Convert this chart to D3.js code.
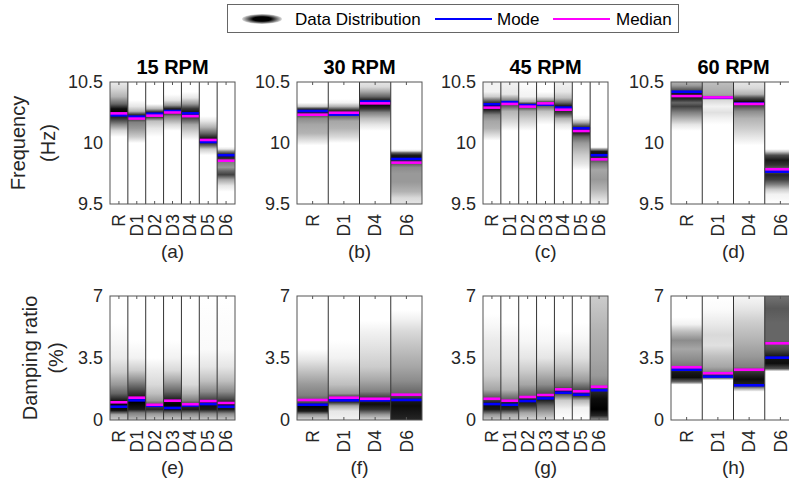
<!DOCTYPE html>
<html>
<head>
<meta charset="utf-8">
<script src="https://cdnjs.cloudflare.com/ajax/libs/d3/7.8.5/d3.min.js"></script>
<style>
body { margin: 0; background: #fff; }
svg { display: block; font-family: "Liberation Sans", Arial, sans-serif; }
</style>
</head>
<body>
<div class="chart"></div>
<script>
// chart size
var svgWidth = 789;
var svgHeight = 486;

// titles and panel letters
var speeds = ["15 RPM", "30 RPM", "45 RPM", "60 RPM"];
var letters = ["(a)", "(b)", "(c)", "(d)", "(e)", "(f)", "(g)", "(h)"];

// categories
var catsFull = ["R", "D1", "D2", "D3", "D4", "D5", "D6"];
var catsShort = ["R", "D1", "D4", "D6"];

// y ticks
var freqTicks = [9.5, 10, 10.5];
var dampTicks = [0, 3.5, 7];

// frequency (Hz): mode and median per category
var freqMode15 = [10.227, 10.216, 10.24, 10.262, 10.243, 10.008, 9.90];
var freqMed15 = [10.243, 10.20, 10.224, 10.25, 10.22, 10.025, 9.855];
var freqMode30 = [10.262, 10.233, 10.34, 9.869];
var freqMed30 = [10.232, 10.248, 10.325, 9.839];
var freqMode45 = [10.317, 10.335, 10.31, 10.315, 10.29, 10.12, 9.90];
var freqMed45 = [10.29, 10.32, 10.298, 10.325, 10.273, 10.098, 9.866];
var freqMode60 = [10.42, 10.372, 10.323, 9.765];
var freqMed60 = [10.385, 10.374, 10.32, 9.785];

// damping ratio (%): mode and median per category
var dampMode15 = [0.75, 1.11, 0.80, 0.68, 0.82, 0.90, 0.75];
var dampMed15 = [1.0, 1.26, 0.86, 1.09, 0.89, 1.07, 0.96];
var dampMode30 = [0.86, 1.11, 1.11, 1.13];
var dampMed30 = [1.13, 1.26, 1.2, 1.43];
var dampMode45 = [0.9, 0.86, 1.07, 1.22, 1.54, 1.43, 1.68];
var dampMed45 = [1.2, 1.09, 1.3, 1.41, 1.73, 1.62, 1.88];
var dampMode60 = [2.84, 2.45, 1.96, 3.52];
var dampMed60 = [2.98, 2.64, 2.84, 4.33];

// data distribution: [value, darkness 0..1] per category
var freqDist15 = [
  [[9.5,0],[10.05,0],[10.1,0.15],[10.15,0.45],[10.2,0.8],[10.24,1],[10.28,0.95],[10.32,0.6],[10.38,0.3],[10.45,0.15],[10.5,0.08]],
  [[9.5,0],[10.0,0],[10.05,0.2],[10.12,0.4],[10.17,0.5],[10.21,0.9],[10.23,0.85],[10.26,0.3],[10.3,0.1],[10.35,0],[10.5,0]],
  [[9.5,0],[10.05,0],[10.12,0.1],[10.18,0.25],[10.22,0.9],[10.25,0.9],[10.28,0.3],[10.32,0],[10.5,0]],
  [[9.5,0],[10.1,0],[10.15,0.15],[10.22,0.5],[10.25,0.9],[10.28,0.9],[10.31,0.4],[10.35,0.1],[10.4,0],[10.5,0]],
  [[9.5,0],[10.02,0],[10.08,0.15],[10.15,0.35],[10.2,0.7],[10.24,0.95],[10.28,0.8],[10.32,0.4],[10.37,0.1],[10.42,0],[10.5,0]],
  [[9.5,0],[9.9,0],[9.95,0.2],[9.98,0.6],[10.01,0.9],[10.04,0.9],[10.08,0.6],[10.13,0.3],[10.18,0.1],[10.22,0],[10.5,0]],
  [[9.5,0],[9.6,0],[9.65,0.1],[9.7,0.35],[9.74,0.75],[9.77,0.6],[9.8,0.4],[9.84,0.5],[9.87,0.8],[9.9,0.95],[9.93,0.5],[9.95,0.1],[9.97,0],[10.5,0]]
];
var freqDist30 = [
  [[9.5,0],[9.98,0],[10.03,0.15],[10.08,0.3],[10.15,0.35],[10.2,0.45],[10.23,0.7],[10.26,0.95],[10.28,0.8],[10.3,0.2],[10.33,0],[10.5,0]],
  [[9.5,0],[10.0,0],[10.05,0.15],[10.12,0.3],[10.18,0.35],[10.22,0.6],[10.25,0.9],[10.27,0.8],[10.3,0.3],[10.33,0.05],[10.36,0],[10.5,0]],
  [[9.5,0],[10.1,0],[10.15,0.1],[10.2,0.25],[10.25,0.5],[10.28,0.8],[10.31,0.95],[10.35,0.9],[10.38,0.6],[10.42,0.35],[10.46,0.15],[10.5,0.1]],
  [[9.5,0.1],[9.55,0.15],[9.6,0.3],[9.68,0.4],[9.75,0.4],[9.8,0.45],[9.84,0.7],[9.87,0.95],[9.9,0.9],[9.92,0.6],[9.935,0.1],[9.95,0],[10.5,0]]
];
var freqDist45 = [
  [[9.5,0],[10.02,0],[10.07,0.15],[10.12,0.3],[10.18,0.35],[10.23,0.5],[10.27,0.85],[10.31,1],[10.34,0.7],[10.38,0.2],[10.42,0.05],[10.5,0.05]],
  [[9.5,0],[10.1,0],[10.15,0.1],[10.2,0.2],[10.26,0.3],[10.3,0.6],[10.33,0.9],[10.35,0.5],[10.4,0.1],[10.5,0.05]],
  [[9.5,0],[10.1,0],[10.15,0.1],[10.2,0.2],[10.26,0.35],[10.29,0.7],[10.32,0.8],[10.34,0.3],[10.38,0.05],[10.5,0]],
  [[9.5,0],[10.15,0],[10.2,0.1],[10.26,0.25],[10.3,0.6],[10.33,0.85],[10.35,0.4],[10.38,0.1],[10.42,0],[10.5,0]],
  [[9.5,0],[10.1,0],[10.15,0.1],[10.2,0.3],[10.24,0.7],[10.27,0.9],[10.3,0.95],[10.33,0.6],[10.37,0.25],[10.42,0.1],[10.5,0.05]],
  [[9.5,0],[9.78,0],[9.83,0.1],[9.9,0.2],[9.95,0.3],[10.0,0.4],[10.05,0.6],[10.08,0.85],[10.11,1],[10.14,0.7],[10.17,0.3],[10.2,0.05],[10.23,0],[10.5,0]],
  [[9.5,0.05],[9.55,0.15],[9.62,0.3],[9.7,0.4],[9.78,0.35],[9.83,0.5],[9.87,0.75],[9.9,0.95],[9.93,0.9],[9.95,0.4],[9.965,0],[10.5,0]]
];
var freqDist60 = [
  [[9.5,0],[10.1,0],[10.15,0.1],[10.2,0.3],[10.25,0.5],[10.3,0.75],[10.33,0.6],[10.36,0.85],[10.4,0.95],[10.43,0.7],[10.47,0.4],[10.5,0.3]],
  [[9.5,0],[10.15,0],[10.2,0.05],[10.25,0.12],[10.3,0.05],[10.35,0.15],[10.37,0.5],[10.4,0.35],[10.45,0.3],[10.5,0.25]],
  [[9.5,0],[9.98,0],[10.05,0.1],[10.12,0.2],[10.2,0.3],[10.26,0.45],[10.3,0.7],[10.34,0.95],[10.37,0.7],[10.4,0.3],[10.45,0.15],[10.5,0.1]],
  [[9.5,0],[9.58,0.05],[9.62,0.2],[9.66,0.5],[9.7,0.75],[9.74,0.85],[9.78,0.6],[9.82,0.8],[9.86,0.9],[9.9,0.7],[9.93,0.2],[9.95,0],[10.5,0]]
];
var dampDist15 = [
  [[0,0.2],[0.3,0.35],[0.55,0.95],[0.8,1],[1.1,0.9],[1.5,0.6],[2.0,0.4],[2.7,0.2],[3.5,0.08],[4.5,0.03],[5.5,0],[7,0]],
  [[0,0.25],[0.4,0.5],[0.6,0.9],[1.0,1],[1.3,0.9],[1.7,0.7],[2.2,0.45],[2.8,0.2],[3.5,0.05],[4.5,0],[7,0]],
  [[0,0.2],[0.35,0.4],[0.6,0.85],[0.85,0.7],[1.1,0.4],[1.5,0.25],[2.0,0.15],[2.8,0.08],[3.5,0],[7,0]],
  [[0,0.2],[0.35,0.45],[0.6,0.95],[0.9,1],[1.2,0.85],[1.6,0.6],[2.2,0.35],[2.8,0.15],[3.5,0.05],[4.5,0],[7,0]],
  [[0,0.2],[0.35,0.45],[0.6,0.9],[0.85,0.8],[1.1,0.5],[1.5,0.3],[2.0,0.15],[3,0.05],[3.8,0],[7,0]],
  [[0,0.2],[0.35,0.45],[0.6,0.9],[0.9,0.95],[1.2,0.7],[1.6,0.45],[2.2,0.25],[3,0.1],[4,0.02],[7,0]],
  [[0,0.2],[0.35,0.45],[0.6,0.9],[0.9,0.95],[1.2,0.7],[1.6,0.45],[2.2,0.25],[3,0.1],[4,0.02],[7,0]]
];
var dampDist30 = [
  [[0,0.15],[0.3,0.4],[0.5,0.9],[0.8,1],[1.0,0.7],[1.4,0.5],[2.0,0.4],[2.7,0.25],[3.4,0.1],[4,0],[7,0]],
  [[0,0.05],[0.5,0.1],[0.8,0.35],[1.0,0.8],[1.2,0.9],[1.5,0.4],[2.0,0.25],[2.7,0.15],[3.5,0.05],[4.5,0],[7,0]],
  [[0,0.15],[0.3,0.4],[0.6,0.8],[0.9,0.95],[1.2,0.8],[1.6,0.5],[2.2,0.35],[3,0.2],[4,0.12],[5,0.05],[5.6,0],[7,0]],
  [[0,0.85],[0.4,0.9],[0.8,0.95],[1.1,0.9],[1.5,0.6],[2.2,0.45],[3,0.35],[4,0.25],[5,0.15],[5.7,0.05],[6.2,0],[7,0]]
];
var dampDist45 = [
  [[0,0.2],[0.3,0.4],[0.6,0.9],[0.9,0.95],[1.2,0.7],[1.7,0.35],[2.5,0.2],[3.5,0.12],[4.5,0.08],[5.3,0.03],[6,0],[7,0]],
  [[0,0.2],[0.3,0.35],[0.6,0.85],[0.9,0.95],[1.2,0.6],[1.7,0.3],[2.5,0.18],[3.5,0.1],[4.5,0.05],[5.5,0],[7,0]],
  [[0,0.15],[0.4,0.35],[0.8,0.8],[1.1,0.95],[1.4,0.6],[2.0,0.35],[2.8,0.2],[3.5,0.1],[4.5,0.03],[5.5,0],[7,0]],
  [[0,0.15],[0.4,0.35],[0.8,0.6],[1.2,0.95],[1.5,0.7],[2.0,0.45],[2.8,0.25],[3.5,0.1],[4.5,0.03],[5.5,0],[7,0]],
  [[0,0],[0.6,0.05],[1.1,0.2],[1.4,0.6],[1.6,0.9],[1.9,0.6],[2.5,0.35],[3.2,0.2],[4,0.08],[5,0],[7,0]],
  [[0,0],[0.7,0.05],[1.1,0.3],[1.4,0.9],[1.7,0.7],[2.2,0.4],[2.8,0.25],[3.5,0.12],[4.5,0.04],[5.5,0],[7,0]],
  [[0,0.4],[0.25,0.85],[0.6,1],[1.2,0.95],[1.6,0.85],[2.0,0.5],[2.5,0.4],[3.5,0.35],[5,0.3],[6,0.25],[7,0.2]]
];
var dampDist60 = [
  [[0,0],[2.0,0],[2.15,0.6],[2.4,0.95],[2.7,0.9],[3.0,0.55],[3.4,0.45],[4.0,0.35],[4.5,0.45],[5.0,0.25],[5.4,0.05],[5.8,0],[7,0]],
  [[0,0],[2.25,0],[2.35,0.5],[2.5,0.85],[2.7,0.5],[3.0,0.35],[3.6,0.25],[4.2,0.12],[4.8,0.15],[5.5,0.08],[6.2,0.02],[7,0]],
  [[0,0],[1.6,0],[1.75,0.3],[1.95,0.85],[2.3,0.95],[2.7,0.8],[3.0,0.5],[3.6,0.4],[4.5,0.3],[5.5,0.2],[6.3,0.1],[7,0.03]],
  [[0,0],[2.75,0],[2.9,0.7],[3.2,0.95],[3.6,0.9],[4.0,0.7],[4.5,0.6],[5.5,0.6],[6.3,0.65],[7,0.55]]
];

// layout
var panelLeft = [110, 297, 483, 671];
var panelWidth = 125;
var rowTop = [82, 296];
var rowBottom = [204, 420];
var textColor = "#262626";

var panels = [
  {row: 0, col: 0, cats: catsFull, mode: freqMode15, median: freqMed15, dist: freqDist15},
  {row: 0, col: 1, cats: catsShort, mode: freqMode30, median: freqMed30, dist: freqDist30},
  {row: 0, col: 2, cats: catsFull, mode: freqMode45, median: freqMed45, dist: freqDist45},
  {row: 0, col: 3, cats: catsShort, mode: freqMode60, median: freqMed60, dist: freqDist60},
  {row: 1, col: 0, cats: catsFull, mode: dampMode15, median: dampMed15, dist: dampDist15},
  {row: 1, col: 1, cats: catsShort, mode: dampMode30, median: dampMed30, dist: dampDist30},
  {row: 1, col: 2, cats: catsFull, mode: dampMode45, median: dampMed45, dist: dampDist45},
  {row: 1, col: 3, cats: catsShort, mode: dampMode60, median: dampMed60, dist: dampDist60}
];

var svg = d3.select(".chart")
  .append("svg")
  .attr("width", svgWidth)
  .attr("height", svgHeight);

var defs = svg.append("defs");

var gray = d => d3.rgb(255 * (1 - d), 255 * (1 - d), 255 * (1 - d)).toString();

panels.forEach(function(p, pi) {
  var ticks = p.row === 0 ? freqTicks : dampTicks;
  var x0 = panelLeft[p.col];
  var top = rowTop[p.row];
  var bottom = rowBottom[p.row];

  var x = d3.scaleBand()
    .domain(p.cats)
    .range([x0, x0 + panelWidth]);

  var y = d3.scaleLinear()
    .domain([ticks[0], ticks[2]])
    .range([bottom, top]);

  var g = svg.append("g");

  // density columns as vertical gradients
  p.cats.forEach(function(c, i) {
    var id = "grad" + pi + "_" + i;
    var grad = defs.append("linearGradient")
      .attr("id", id)
      .attr("gradientUnits", "userSpaceOnUse")
      .attr("x1", 0).attr("x2", 0)
      .attr("y1", y.range()[0])
      .attr("y2", y.range()[1]);
    grad.selectAll("stop")
      .data(p.dist[i])
      .enter()
      .append("stop")
      .attr("offset", d => (y.range()[0] - y(d[0])) / (y.range()[0] - y.range()[1]))
      .attr("stop-color", d => gray(d[1]));

    g.append("rect")
      .attr("x", x(c))
      .attr("y", top)
      .attr("width", x.bandwidth())
      .attr("height", bottom - top)
      .attr("fill", "url(#" + id + ")");
  });

  // mode and median lines
  g.selectAll(".mode")
    .data(p.mode)
    .enter()
    .append("line")
    .attr("x1", (d, i) => x(p.cats[i]))
    .attr("x2", (d, i) => x(p.cats[i]) + x.bandwidth())
    .attr("y1", d => y(d))
    .attr("y2", d => y(d))
    .attr("stroke", "#0000ff")
    .attr("stroke-width", 2.6);

  g.selectAll(".median")
    .data(p.median)
    .enter()
    .append("line")
    .attr("x1", (d, i) => x(p.cats[i]))
    .attr("x2", (d, i) => x(p.cats[i]) + x.bandwidth())
    .attr("y1", d => y(d))
    .attr("y2", d => y(d))
    .attr("stroke", "#ff00ff")
    .attr("stroke-width", 2.6);

  // column separators
  g.selectAll(".sep")
    .data(p.cats.slice(1))
    .enter()
    .append("line")
    .attr("x1", d => x(d))
    .attr("x2", d => x(d))
    .attr("y1", top)
    .attr("y2", bottom)
    .attr("stroke", "#333")
    .attr("stroke-width", 1);

  // box
  g.append("rect")
    .attr("x", x0)
    .attr("y", top)
    .attr("width", panelWidth)
    .attr("height", bottom - top)
    .attr("fill", "none")
    .attr("stroke", "#555")
    .attr("stroke-width", 1);

  // x axis
  var xAxis = g.append("g")
    .attr("transform", `translate(0, ${bottom})`)
    .call(d3.axisBottom(x).tickSizeInner(-3).tickSizeOuter(0));
  xAxis.select(".domain").remove();
  xAxis.selectAll("line").attr("stroke", "#555");
  xAxis.selectAll("text")
    .attr("transform", "rotate(-90)")
    .attr("x", -10)
    .attr("y", 0)
    .attr("dy", "0.35em")
    .attr("text-anchor", "end")
    .attr("font-size", 17.5)
    .attr("font-family", "Liberation Sans, Arial, sans-serif")
    .attr("fill", textColor);

  // top tick marks
  g.selectAll(".ttick")
    .data(p.cats)
    .enter()
    .append("line")
    .attr("x1", d => x(d) + x.bandwidth() / 2)
    .attr("x2", d => x(d) + x.bandwidth() / 2)
    .attr("y1", top)
    .attr("y2", top + 3)
    .attr("stroke", "#555");

  // y axis
  var yAxis = g.append("g")
    .attr("transform", `translate(${x0}, 0)`)
    .call(d3.axisLeft(y).tickValues(ticks).tickFormat(d3.format("")).tickSizeInner(0).tickSizeOuter(0).tickPadding(7));
  yAxis.select(".domain").remove();
  yAxis.selectAll("text")
    .attr("font-size", 18)
    .attr("font-family", "Liberation Sans, Arial, sans-serif")
    .attr("fill", textColor);

  // panel letter
  g.append("text")
    .attr("x", x0 + panelWidth / 2)
    .attr("y", bottom + 54)
    .attr("text-anchor", "middle")
    .attr("font-size", 19)
    .attr("fill", textColor)
    .text(letters[pi]);

  // title
  if (p.row === 0) {
    g.append("text")
      .attr("x", x0 + panelWidth / 2)
      .attr("y", top - 8)
      .attr("text-anchor", "middle")
      .attr("font-size", 20)
      .attr("font-weight", "bold")
      .attr("fill", "#000")
      .text(speeds[p.col]);
  }
});

// y axis labels (two lines each)
var yLabels = [
  {lines: ["Frequency", "(Hz)"], xs: [25, 55], cy: (rowTop[0] + rowBottom[0]) / 2},
  {lines: ["Damping ratio", "(%)"], xs: [37, 63], cy: (rowTop[1] + rowBottom[1]) / 2}
];
yLabels.forEach(function(l) {
  l.lines.forEach(function(t, i) {
    svg.append("text")
      .attr("transform", `translate(${l.xs[i]}, ${l.cy}) rotate(-90)`)
      .attr("text-anchor", "middle")
      .attr("font-size", 20)
      .attr("fill", textColor)
      .text(t);
  });
});

// legend
var legend = svg.append("g");
legend.append("rect")
  .attr("x", 227.5)
  .attr("y", 4.5)
  .attr("width", 451)
  .attr("height", 28)
  .attr("fill", "#fff")
  .attr("stroke", "#666");

var rg = defs.append("radialGradient").attr("id", "legendGrad");
rg.append("stop").attr("offset", 0).attr("stop-color", "#000");
rg.append("stop").attr("offset", 0.45).attr("stop-color", "#000");
rg.append("stop").attr("offset", 0.75).attr("stop-color", "#777");
rg.append("stop").attr("offset", 1).attr("stop-color", "#ddd");

legend.append("ellipse")
  .attr("cx", 262)
  .attr("cy", 19)
  .attr("rx", 20)
  .attr("ry", 5)
  .attr("fill", "url(#legendGrad)");

legend.append("text").attr("x", 295).attr("y", 25).attr("font-size", 17).attr("fill", "#000").text("Data Distribution");
legend.append("line").attr("x1", 435).attr("x2", 492).attr("y1", 19).attr("y2", 19).attr("stroke", "#0000ff").attr("stroke-width", 2);
legend.append("text").attr("x", 497).attr("y", 25).attr("font-size", 17).attr("fill", "#000").text("Mode");
legend.append("line").attr("x1", 553).attr("x2", 610).attr("y1", 19).attr("y2", 19).attr("stroke", "#ff00ff").attr("stroke-width", 2);
legend.append("text").attr("x", 616).attr("y", 25).attr("font-size", 17).attr("fill", "#000").text("Median");
</script>
</body>
</html>
